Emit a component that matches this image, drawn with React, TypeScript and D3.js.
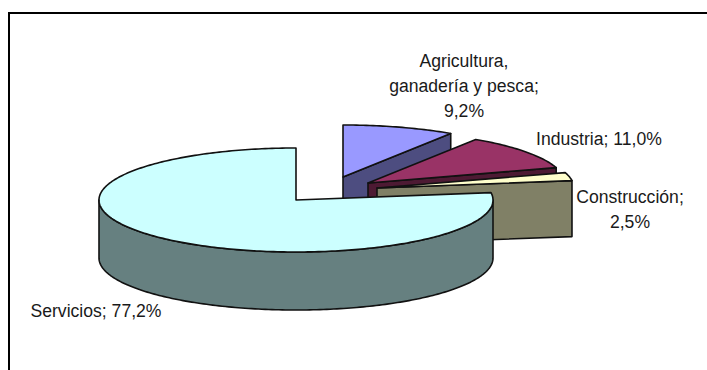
import React from "react";
import * as d3 from "d3";

// Employment share by sector, drawn as an exploded 3D pie.
const sectors = ["Agricultura", "Industria", "Construcción", "Servicios"];
const shares = [9.2, 11.0, 2.5, 77.2];
const topColors = ["#9999FF", "#993366", "#FFFFCC", "#CCFFFF"];
const wallColors = ["#4D4D80", "#4D1A33", "#808066", "#668080"];
const centersX = [343, 368, 377, 296];
const centersY = [177, 183, 188, 200];
const depths = [58, 58, 56, 58];

const labelLines = [
  ["Agricultura,", "ganadería y pesca;", "9,2%"],
  ["Industria; 11,0%"],
  ["Construcción;", "2,5%"],
  ["Servicios; 77,2%"],
];
const labelX = [464, 599, 630, 96];
const labelY = [67, 145, 203, 317];

const RX = 197;
const RY = 52;
const TEXT_GAP = 25;

const pie = d3
  .pie<number>()
  .value((d) => d)
  .sort(null)
  .startAngle(0)
  .endAngle(2 * Math.PI);

const arcs = pie(shares);

// Angles are clockwise from twelve o'clock, flattened into an ellipse.
const px = (cx: number, a: number) => cx + RX * Math.sin(a);
const py = (cy: number, a: number) => cy - RY * Math.cos(a);
const line = d3.line<[number, number]>();
const STEP = Math.PI / 180;

function rimPoints(cx: number, cy: number, a0: number, a1: number): [number, number][] {
  const n = Math.max(1, Math.ceil((a1 - a0) / STEP));
  return d3.range(n + 1).map((i) => {
    const a = a0 + ((a1 - a0) * i) / n;
    return [px(cx, a), py(cy, a)] as [number, number];
  });
}

function topPath(i: number) {
  const { startAngle, endAngle } = arcs[i];
  const cx = centersX[i];
  const cy = centersY[i];
  return line([[cx, cy], ...rimPoints(cx, cy, startAngle, endAngle)]) + "Z";
}

// Outer curved wall: only the part of the rim facing the viewer.
function rimWall(i: number) {
  const a0 = Math.max(arcs[i].startAngle, Math.PI / 2);
  const a1 = Math.min(arcs[i].endAngle, (3 * Math.PI) / 2);
  if (a1 <= a0) return null;
  const upper = rimPoints(centersX[i], centersY[i], a0, a1);
  const lower = upper.map(([x, y]) => [x, y + depths[i]] as [number, number]).reverse();
  return line([...upper, ...lower]) + "Z";
}

// Flat wall under the slice's clockwise cut edge.
function cutWall(i: number) {
  const a = arcs[i].endAngle;
  if (a >= Math.PI / 2) return null;
  const cx = centersX[i];
  const cy = centersY[i];
  const x = px(cx, a);
  const y = py(cy, a);
  return line([
    [cx, cy],
    [x, y],
    [x, y + depths[i]],
    [cx, cy + depths[i]],
  ]) + "Z";
}

const outline = { stroke: "#111", strokeWidth: 1.6, strokeLinejoin: "round" as const };

export default function App() {
  return (
    <svg
      width={707}
      height={370}
      style={{ position: "absolute", left: 0, top: 0, background: "#fff" }}
      fontFamily="'Liberation Sans', Arial, sans-serif"
      fontSize={17.6}
      fill="#1a1a1a"
    >
      <path d="M9 370V13H707" fill="none" stroke="#000" strokeWidth={2} />
      {sectors.map((name, i) => {
        const cut = cutWall(i);
        const rim = rimWall(i);
        return (
          <g key={name}>
            {cut && <path d={cut} fill={wallColors[i]} {...outline} />}
            {rim && <path d={rim} fill={wallColors[i]} {...outline} />}
            <path d={topPath(i)} fill={topColors[i]} {...outline} />
          </g>
        );
      })}
      {labelLines.map((lines, i) => (
        <text key={i} x={labelX[i]} y={labelY[i]} textAnchor="middle">
          {lines.map((t, j) => (
            <tspan key={j} x={labelX[i]} dy={j === 0 ? 0 : TEXT_GAP}>
              {t}
            </tspan>
          ))}
        </text>
      ))}
    </svg>
  );
}
